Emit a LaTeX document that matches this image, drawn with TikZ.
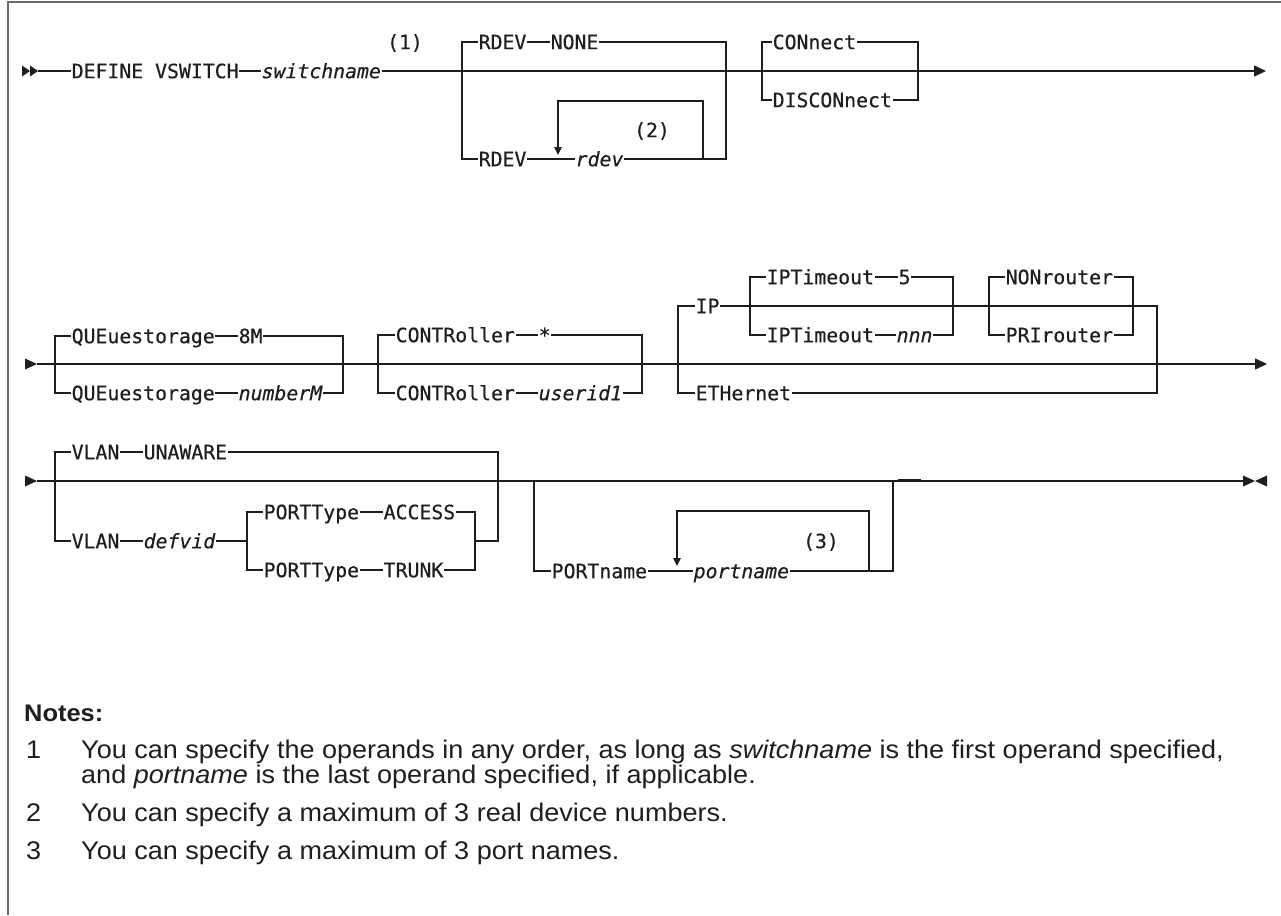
\documentclass[tikz,border=0pt]{standalone}
\usepackage{fontspec}
\setmainfont{Liberation Sans}
\newfontfamily\synfont[FakeBold=0.5]{DejaVu Sans Mono}
\newfontfamily\notefont[FakeStretch=1.06]{Liberation Sans}
\usetikzlibrary{arrows.meta}
\definecolor{ink}{HTML}{1E1E1E}
\definecolor{frame}{HTML}{6A6A6A}

\tikzset{
  kw/.style={font=\synfont\fontsize{19.8}{22}\selectfont, inner xsep=0.5pt, inner ysep=0pt,
             text height=14.4pt, text depth=0pt, anchor=west, text=ink},
  var/.style={kw, font=\synfont\itshape\fontsize{19.8}{22}\selectfont},
  fn/.style={kw, anchor=center},
  rail/.style={draw=ink, line width=1.4pt},
  endtip/.style={-{Triangle[length=12pt,width=11pt]}},
  looptip/.style={-{Triangle[length=8pt,width=7.5pt]}},
  note/.style={font=\notefont\fontsize{25.5}{28}\selectfont, inner sep=0pt, text height=18.2pt,
               text depth=0pt, anchor=west, text=ink},
  notehead/.style={note, font=\notefont\bfseries\fontsize{24}{28}\selectfont},
}

\begin{document}
\begin{tikzpicture}[x=1pt, y=-1pt]
\useasboundingbox (0,0) rectangle (1281,915);

% page frame
\draw[frame, line width=2pt] (8,915) -- (8,2) -- (1281,2);

% ---------------- first line ----------------
\fill[ink] (22,65.5) -- (30,71) -- (22,76.5) -- cycle;
\fill[ink] (30,65.5) -- (38,71) -- (30,76.5) -- cycle;
\coordinate (s1) at (38,71);
\coordinate (e1) at (1266,71);
\node[kw] (def) at (71,71) {DEFINE VSWITCH};
\node[var] (sw) at (261,71) {switchname};
\node[fn] (n1) at (405,42) {(1)};
\draw[rail] (s1) -- (def.west);
\draw[rail] (def.east) -- (sw.west);
\draw[rail, endtip] (sw.east) -- (e1);

% RDEV group
\node[kw] (rdA) at (478,42) {RDEV};
\node[kw] (noneA) at (550,42) {NONE};
\node[kw] (rdB) at (478,159) {RDEV};
\node[var] (rdv) at (575,159) {rdev};
\node[fn] (n2) at (652,130) {(2)};
\coordinate (rTL) at (462,42);
\coordinate (rBL) at (462,159);
\coordinate (rTR) at (726,42);
\coordinate (rBR) at (726,159);
\draw[rail] (rdA.west) -- (rTL) -- (rBL) -- (rdB.west);
\draw[rail] (rdA.east) -- (noneA.west);
\draw[rail] (noneA.east) -- (rTR) -- (rBR) -- (rdv.east);
\draw[rail] (rdB.east) -- (rdv.west);
\coordinate (lp1) at (703,159);
\coordinate (lp2) at (703,101);
\coordinate (lp3) at (558,101);
\coordinate (lp4) at (558,155);
\draw[rail, looptip] (lp1) -- (lp2) -- (lp3) -- (lp4);

% CONnect group
\node[kw] (con) at (772,42) {CONnect};
\node[kw] (dis) at (772,100) {DISCONnect};
\coordinate (cTL) at (762,42);
\coordinate (cBL) at (762,100);
\coordinate (cTR) at (918,42);
\coordinate (cBR) at (918,100);
\draw[rail] (con.west) -- (cTL) -- (cBL) -- (dis.west);
\draw[rail] (con.east) -- (cTR) -- (cBR) -- (dis.east);

% ---------------- second line ----------------
\fill[ink] (25,358.5) -- (37,364) -- (25,369.5) -- cycle;
\coordinate (s2) at (37,364);
\coordinate (e2) at (1267,364);
\draw[rail, endtip] (s2) -- (e2);

% QUEuestorage group
\node[kw] (q1) at (71,336) {QUEuestorage};
\node[kw] (q8) at (238,336) {8M};
\node[kw] (q2) at (71,393) {QUEuestorage};
\node[var] (qn) at (238,393) {numberM};
\coordinate (qTL) at (55,336);
\coordinate (qBL) at (55,393);
\coordinate (qTR) at (343,336);
\coordinate (qBR) at (343,393);
\draw[rail] (q1.west) -- (qTL) -- (qBL) -- (q2.west);
\draw[rail] (q1.east) -- (q8.west);
\draw[rail] (q8.east) -- (qTR) -- (qBR) -- (qn.east);
\draw[rail] (q2.east) -- (qn.west);

% CONTRoller group
\node[kw] (c1) at (395,335) {CONTRoller};
\node[kw] (cs) at (538,335) {*};
\node[kw] (c2) at (395,393) {CONTRoller};
\node[var] (cu) at (538,393) {userid1};
\coordinate (kTL) at (378,335);
\coordinate (kBL) at (378,393);
\coordinate (kTR) at (642,335);
\coordinate (kBR) at (642,393);
\draw[rail] (c1.west) -- (kTL) -- (kBL) -- (c2.west);
\draw[rail] (c1.east) -- (cs.west);
\draw[rail] (cs.east) -- (kTR) -- (kBR) -- (cu.east);
\draw[rail] (c2.east) -- (cu.west);

% IP / ETHernet group
\node[kw] (ip) at (695,306) {IP};
\node[kw] (eth) at (695,393) {ETHernet};
\coordinate (iTL) at (678,306);
\coordinate (iBL) at (678,393);
\coordinate (iTR) at (1157,306);
\coordinate (iBR) at (1157,393);
\draw[rail] (ip.west) -- (iTL) -- (iBL) -- (eth.west);
\draw[rail] (ip.east) -- (iTR) -- (iBR) -- (eth.east);

\node[kw] (t1) at (766,277) {IPTimeout};
\node[kw] (t5) at (898,277) {5};
\node[kw] (t2) at (766,335) {IPTimeout};
\node[var] (tn) at (896,335) {nnn};
\coordinate (tTL) at (750,277);
\coordinate (tBL) at (750,335);
\coordinate (tTR) at (953,277);
\coordinate (tBR) at (953,335);
\draw[rail] (t1.west) -- (tTL) -- (tBL) -- (t2.west);
\draw[rail] (t1.east) -- (t5.west);
\draw[rail] (t5.east) -- (tTR) -- (tBR) -- (tn.east);
\draw[rail] (t2.east) -- (tn.west);

\node[kw] (nr) at (1005,277) {NONrouter};
\node[kw] (pr) at (1005,335) {PRIrouter};
\coordinate (oTL) at (989,277);
\coordinate (oBL) at (989,335);
\coordinate (oTR) at (1133,277);
\coordinate (oBR) at (1133,335);
\draw[rail] (nr.west) -- (oTL) -- (oBL) -- (pr.west);
\draw[rail] (nr.east) -- (oTR) -- (oBR) -- (pr.east);

% ---------------- third line ----------------
\fill[ink] (25,475.5) -- (37,481) -- (25,486.5) -- cycle;
\coordinate (s3) at (37,481);
\coordinate (e3) at (1243,481);
\draw[rail] (s3) -- (e3);
\fill[ink] (1243,475.5) -- (1255,481) -- (1243,486.5) -- cycle;
\fill[ink] (1267,475.5) -- (1255,481) -- (1267,486.5) -- cycle;

% VLAN group
\node[kw] (v1) at (71,452) {VLAN};
\node[kw] (un) at (143,452) {UNAWARE};
\node[kw] (v2) at (71,541) {VLAN};
\node[var] (dv) at (143,541) {defvid};
\coordinate (vTL) at (55,452);
\coordinate (vBL) at (55,541);
\coordinate (vTR) at (498,452);
\coordinate (vBR) at (498,541);
\draw[rail] (v1.west) -- (vTL) -- (vBL) -- (v2.west);
\draw[rail] (v1.east) -- (un.west);
\draw[rail] (v2.east) -- (dv.west);

% PORTType group
\node[kw] (p1) at (263,512) {PORTType};
\node[kw] (ac) at (383,512) {ACCESS};
\node[kw] (p2) at (263,570) {PORTType};
\node[kw] (tr) at (383,570) {TRUNK};
\coordinate (pTL) at (247,512);
\coordinate (pBL) at (247,570);
\coordinate (pTR) at (475,512);
\coordinate (pBR) at (475,570);
\coordinate (pLm) at (247,541);
\coordinate (pRm) at (475,541);
\draw[rail] (p1.west) -- (pTL) -- (pBL) -- (p2.west);
\draw[rail] (p1.east) -- (ac.west);
\draw[rail] (ac.east) -- (pTR) -- (pBR) -- (tr.east);
\draw[rail] (p2.east) -- (tr.west);
\draw[rail] (dv.east) -- (pLm);
\draw[rail] (un.east) -- (vTR) -- (vBR) -- (pRm);

% PORTname group
\node[kw] (pn) at (551,571) {PORTname};
\node[var] (pv) at (693,571) {portname};
\node[fn] (n3) at (821,541) {(3)};
\coordinate (nTL) at (534,481);
\coordinate (nBL) at (534,571);
\coordinate (nTR) at (893,481);
\coordinate (nBR) at (893,571);
\draw[rail] (nTL) -- (nBL) -- (pn.west);
\draw[rail] (pn.east) -- (pv.west);
\draw[rail] (pv.east) -- (nBR) -- (nTR);
\coordinate (lq1) at (869,571);
\coordinate (lq2) at (869,511);
\coordinate (lq3) at (677,511);
\coordinate (lq4) at (677,566);
\draw[rail, looptip] (lq1) -- (lq2) -- (lq3) -- (lq4);
\coordinate (stubA) at (898,479.3);
\coordinate (stubB) at (921,479.3);
\draw[rail] (stubA) -- (stubB);

% ---------------- notes ----------------
\node[notehead] (nh) at (24,712) {Notes:};
\node[note] (k1) at (26,749) {1};
\node[note] (t1a) at (81,749) {You can specify the operands in any order, as long as \textit{switchname} is the first operand specified,};
\node[note] (t1b) at (81,774) {and \textit{portname} is the last operand specified, if applicable.};
\node[note] (k2) at (26,812) {2};
\node[note] (t2a) at (81,812) {You can specify a maximum of 3 real device numbers.};
\node[note] (k3) at (26,850) {3};
\node[note] (t3a) at (81,850) {You can specify a maximum of 3 port names.};
\end{tikzpicture}
\end{document}
